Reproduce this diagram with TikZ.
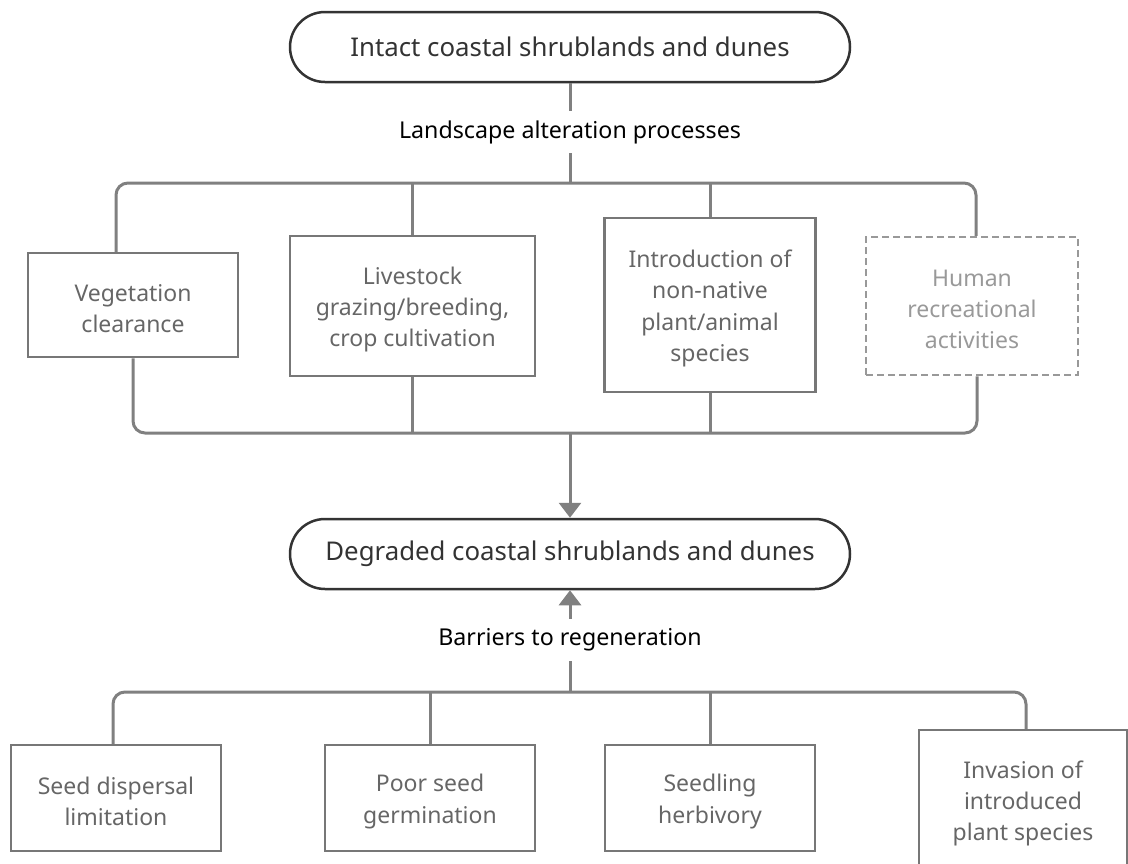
\documentclass[tikz,border=0pt]{standalone}
\usepackage{fontspec}
\setmainfont{Noto Sans}
\usetikzlibrary{arrows.meta}
\definecolor{connc}{HTML}{808080}
\definecolor{boxc}{HTML}{777777}
\definecolor{boxt}{HTML}{666666}
\definecolor{pillc}{HTML}{333333}
\definecolor{dashc}{HTML}{999999}
\begin{document}
\begin{tikzpicture}[x=1pt,y=-1pt,
  pill/.style={draw=pillc, line width=2.5pt, rounded corners=35pt, minimum width=560pt, minimum height=70pt, text=pillc, font=\fontsize{25.8}{30}\selectfont, inner sep=0pt},
  lbl/.style={text=black, font=\fontsize{23.2}{28}\selectfont, minimum height=42pt, inner sep=0pt},
  pbox/.style={draw=boxc, line width=2.5pt, inner sep=0pt},
  btxt/.style={text=boxt, font=\fontsize{23}{31.3}\selectfont, align=center, inner sep=0pt, yshift=-3.5pt},
  dbox/.style={pbox, draw=dashc, dash pattern=on 7pt off 4pt},
  dtxt/.style={btxt, text=dashc},
  conn/.style={draw=connc, line width=3pt},
  busline/.style={conn, rounded corners=12pt},
  arr/.style={conn, -{Triangle[length=15pt,width=22pt]}}
]
\useasboundingbox (0,0) rectangle (1128,863);
\clip (0,0) rectangle (1128,863);

% pills and labels
\node[pill] (intact) at (570,47) {Intact coastal shrublands and dunes};
\node[lbl] (lab1) at (570,132) {Landscape alteration processes};
\node[pill] (deg) at (570,554) {Degraded coastal shrublands and dunes};
\node[lbl] (lab2) at (570,640) {Barriers to regeneration};

% alteration processes
\node[pbox, minimum width=210pt, minimum height=104pt,
  label={[btxt]center:{Vegetation\\clearance}}] (veg) at (133,305) {};
\node[pbox, minimum width=245pt, minimum height=140pt,
  label={[btxt]center:{Livestock\\grazing/breeding,\\crop cultivation}}] (liv) at (412.5,306) {};
\node[pbox, minimum width=211pt, minimum height=174pt,
  label={[btxt]center:{Introduction of\\non-native\\plant/animal\\species}}] (intro) at (710,305) {};
\node[dbox, minimum width=212pt, minimum height=138pt,
  label={[dtxt]center:{Human\\recreational\\activities}}] (hum) at (972,306) {};

% barriers
\node[pbox, minimum width=210pt, minimum height=106pt,
  label={[btxt]center:{Seed dispersal\\limitation}}] (sd) at (116,798) {};
\node[pbox, minimum width=210pt, minimum height=106pt,
  label={[btxt]center:{Poor seed\\germination}}] (pg) at (430,798) {};
\node[pbox, minimum width=210pt, minimum height=106pt,
  label={[btxt]center:{Seedling\\herbivory}}] (sh) at (710,798) {};
\node[pbox, minimum width=208pt, minimum height=140pt,
  label={[btxt]center:{Invasion of\\introduced\\plant species}}] (inv) at (1023,800) {};

% bus coordinates
\coordinate (bus1) at (570,183);
\coordinate (bus2) at (570,433);
\coordinate (bus3) at (570,692);

% top part
\draw[conn] (intact.south) -- (lab1.north);
\draw[conn] (lab1.south) -- (bus1);
\draw[busline] ([xshift=-17pt]veg.north) |- (bus1) -| ([xshift=4pt]hum.north);
\draw[conn] (liv.north) -- (liv.north |- bus1);
\draw[conn] (intro.north) -- (intro.north |- bus1);

\draw[busline] (veg.south) |- (bus2) -| ([xshift=5pt]hum.south);
\draw[conn] (liv.south) -- (liv.south |- bus2);
\draw[conn] (intro.south) -- (intro.south |- bus2);
\draw[arr] (bus2) -- (deg.north);

% bottom part
\draw[arr] (lab2.north) -- (deg.south);
\draw[conn] (lab2.south) -- (bus3);
\draw[busline] ([xshift=-3pt]sd.north) |- (bus3) -| ([xshift=3pt]inv.north);
\draw[conn] (pg.north) -- (pg.north |- bus3);
\draw[conn] (sh.north) -- (sh.north |- bus3);
\end{tikzpicture}
\end{document}
